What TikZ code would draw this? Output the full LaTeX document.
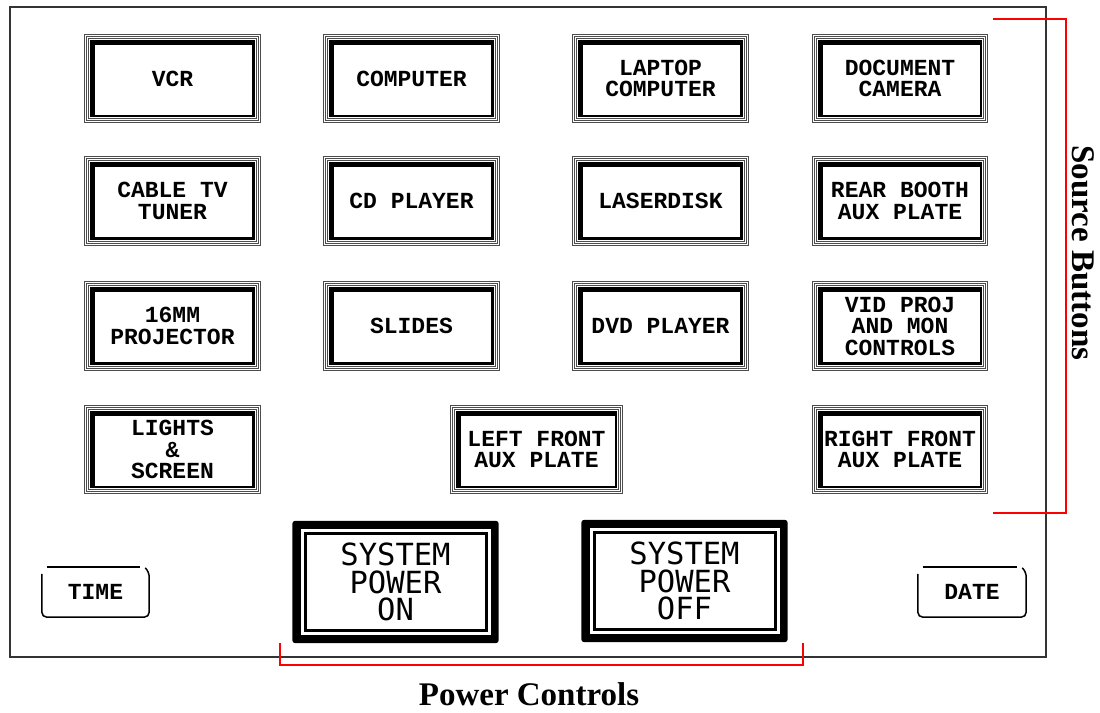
\documentclass[tikz,border=0pt]{standalone}
\usepackage{fontspec}
\newfontfamily\btnfont{Liberation Mono}
\newfontfamily\pwrfont{DejaVu Sans Mono}
\newfontfamily\lblfont{Liberation Serif}
\pgfdeclarelayer{paper}
\pgfdeclarelayer{background}
\pgfsetlayers{paper,background,main}
\begin{document}
\begin{tikzpicture}[x=1pt,y=-1pt,
  src/.style={minimum width=176pt, minimum height=89pt, inner sep=0pt, align=center,
    font=\btnfont\bfseries\fontsize{23}{21.5}\selectfont},
  pwr/.style={minimum width=206pt, minimum height=122pt, inner sep=0pt, align=center,
    font=\pwrfont\fontsize{30.5}{27.5}\selectfont},
  clock/.style={minimum width=107pt, minimum height=50pt, inner sep=0pt,
    font=\btnfont\bfseries\fontsize{23}{21.5}\selectfont},
  thinline/.style={draw=black!70, line width=0.9pt},
  bracket/.style={draw=red, line width=1.3pt},
  caption/.style={font=\lblfont\bfseries\fontsize{33}{36}\selectfont}]
\useasboundingbox (0,0) rectangle (1100,712);
\begin{pgfonlayer}{paper}
\fill[white] (0,0) rectangle (1100,712);
\end{pgfonlayer}
% panel
\draw[black!80, line width=1.6pt] (10,7) rectangle (1046,657);
% source buttons
\node[src] (vcr)    at (172.5,78.5) {VCR};
\node[src] (comp)   at (411.5,78.5) {COMPUTER};
\node[src] (lap)    at (660.5,78.5) {LAPTOP\\COMPUTER};
\node[src] (doc)    at (900,78.5)   {DOCUMENT\\CAMERA};
\node[src] (cable)  at (172.5,201)  {CABLE TV\\TUNER};
\node[src] (cd)     at (411.5,201)  {CD PLAYER};
\node[src] (laser)  at (660.5,201)  {LASERDISK};
\node[src] (rear)   at (900,201)    {REAR BOOTH\\AUX PLATE};
\node[src] (mm)     at (172.5,326)  {16MM\\PROJECTOR};
\node[src] (slides) at (411.5,326)  {SLIDES};
\node[src] (dvd)    at (660.5,326)  {DVD PLAYER};
\node[src] (vid)    at (900,326)    {VID PROJ\\AND MON\\CONTROLS};
\node[src] (lights) at (172.5,449.5) {LIGHTS\\\&\\SCREEN};
\node[src, minimum width=173pt] (left) at (536.5,449.5) {LEFT FRONT\\AUX PLATE};
\node[src] (right)  at (900,449.5)  {RIGHT FRONT\\AUX PLATE};
% power buttons
\node[pwr] (on)  at (395.5,582) {SYSTEM\\POWER\\ON};
\node[pwr] (off) at (684.5,581) {SYSTEM\\POWER\\OFF};
% clock buttons
\node[clock] (time) at (95.5,592) {TIME};
\node[clock, minimum width=108pt] (date) at (972,592) {DATE};
\begin{pgfonlayer}{background}
\foreach \n in {vcr,comp,lap,doc,cable,cd,laser,rear,mm,slides,dvd,vid,lights,left,right} {
  \draw[thinline] ([shift={(0.5pt,0.5pt)}]\n.south west) rectangle ([shift={(-0.5pt,-0.5pt)}]\n.north east);
  \draw[thinline] ([shift={(2.5pt,2.5pt)}]\n.south west) rectangle ([shift={(-2.5pt,-2.5pt)}]\n.north east);
  \draw[thinline] ([shift={(4.5pt,4.5pt)}]\n.south west) rectangle ([shift={(-4.5pt,-4.5pt)}]\n.north east);
  \draw[line width=2.5pt] ([shift={(7.25pt,7.25pt)}]\n.south west) rectangle ([shift={(-7.25pt,-7.25pt)}]\n.north east);
  \draw[line width=5pt] ([shift={(8.5pt,6pt)}]\n.south west) -- ([shift={(8.5pt,-8.5pt)}]\n.north west) -- ([shift={(-6pt,-8.5pt)}]\n.north east);
}
\foreach \n in {on,off} {
  \fill[black, rounded corners=3pt] (\n.south west) rectangle (\n.north east);
  \fill[white] ([shift={(9pt,8pt)}]\n.south west) rectangle ([shift={(-8pt,-8pt)}]\n.north east);
  \draw[line width=3pt, fill=white] ([shift={(13.5pt,12.5pt)}]\n.south west) rectangle ([shift={(-12.5pt,-12.5pt)}]\n.north east);
}
\foreach \n in {time,date} {
  \draw[line width=1.5pt] ([shift={(5pt,0pt)}]\n.north west) -- ([shift={(-9pt,0pt)}]\n.north east);
  \draw[line width=1.5pt, rounded corners=5pt] ([shift={(0pt,-7pt)}]\n.north west) -- (\n.south west) -- (\n.south east) -- ([shift={(0pt,-5pt)}]\n.north east) -- ([shift={(-4pt,-1pt)}]\n.north east);
}
\end{pgfonlayer}
% brackets
\coordinate (sbt) at (993,19);
\coordinate (sbtr) at (1066,19);
\coordinate (sbbr) at (1066,513);
\coordinate (sbb) at (993,513);
\draw[bracket] (sbt) -- (sbtr) -- (sbbr) -- (sbb);
\coordinate (pcl) at (280,643);
\coordinate (pcbl) at (280,665);
\coordinate (pcbr) at (803,665);
\coordinate (pcr) at (803,643);
\draw[bracket] (pcl) -- (pcbl) -- (pcbr) -- (pcr);
\node[caption, rotate=-90] (srclabel) at (1083,253) {Source Buttons};
\node[caption] (pwrlabel) at (529,694) {Power Controls};
\end{tikzpicture}
\end{document}
